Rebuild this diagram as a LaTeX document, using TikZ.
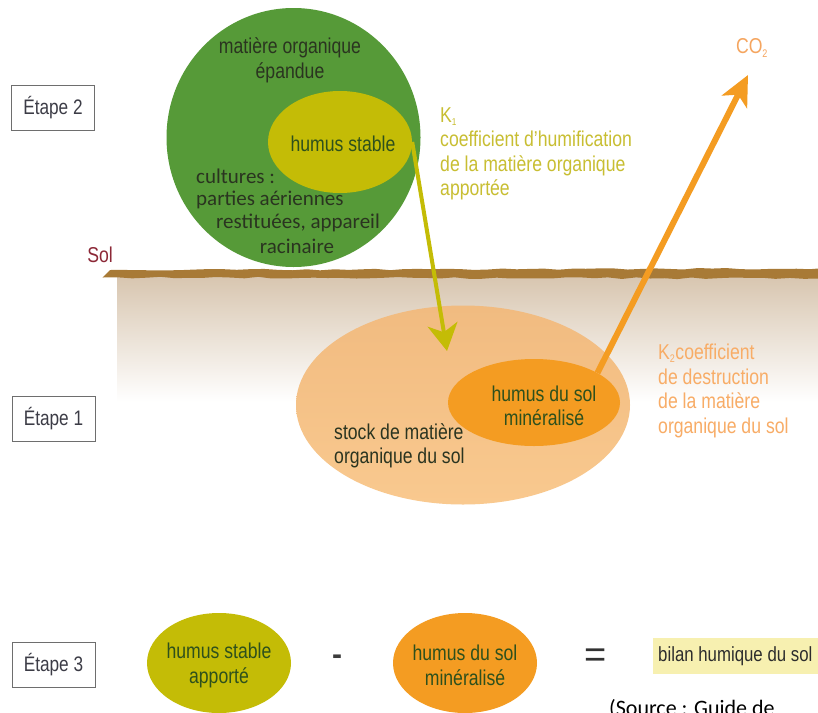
\documentclass[tikz,border=0pt]{standalone}
\usepackage{fontspec}
\setmainfont{Liberation Sans}
\newfontfamily\cond[FakeStretch=0.82]{Liberation Sans}
\newfontfamily\cali{Carlito}
\usetikzlibrary{arrows.meta,shapes.geometric,decorations.pathmorphing}
\definecolor{greenc}{RGB}{86,154,56}
\definecolor{yellowc}{RGB}{196,188,6}
\definecolor{lightor}{RGB}{249,201,143}
\definecolor{lightortop}{RGB}{241,187,128}
\definecolor{darkor}{RGB}{244,156,34}
\definecolor{soiltop}{RGB}{216,198,176}
\definecolor{soilbrown}{RGB}{168,122,54}
\definecolor{solred}{RGB}{140,40,55}
\definecolor{kone}{RGB}{200,190,50}
\definecolor{ktwo}{RGB}{248,172,102}
\definecolor{cotwo}{RGB}{245,165,95}
\definecolor{intxt}{RGB}{46,80,28}
\definecolor{darktxt}{RGB}{42,52,32}
\definecolor{boxgray}{RGB}{110,110,110}
\definecolor{bilanbg}{RGB}{247,240,176}
\begin{document}
\begin{tikzpicture}[x=1pt,y=-1pt,
  lbl/.style={font=\cond\fontsize{21.5}{24.5}\selectfont, align=center, inner sep=0},
  cal/.style={font=\cali\fontsize{21}{23.7}\selectfont, inner sep=0, text=darktxt},
  etape/.style={draw=boxgray, line width=1pt, minimum width=83pt, minimum height=45pt, inner sep=0,
     font=\cond\fontsize{21}{23}\selectfont, text={rgb,255:red,60;green,60;blue,70}},
  blob/.style={ellipse, inner sep=0, draw=none},
  yarrow/.style={draw=yellowc, line width=4pt, -{Stealth[length=27pt,width=30pt,inset=8pt]}},
  oarrow/.style={draw=darkor, line width=6pt, -{Stealth[length=30pt,width=28pt,inset=8pt]}}
]
\useasboundingbox (0,0) rectangle (818,712);
\fill[white] (0,0) rectangle (818,712);

% soil
\shade[top color=soiltop, bottom color=white] (117,277) rectangle (818,402);
\pgfmathsetseed{11}
\fill[soilbrown, decorate, decoration={random steps, segment length=14pt, amplitude=0.9pt}]
  (110,270) -- (818,268.5) -- (818,278.5) -- (110,277.5) -- cycle;
\node[lbl, text=solred] (sol) at (100,255) {Sol};

% Etape boxes
\node[etape] (e2) at (53,108) {Étape 2};
\node[etape] (e1) at (53.5,418.5) {Étape 1};
\node[etape] (e3) at (53.5,664.5) {Étape 3};

% green circle
\node[blob, fill=greenc, minimum width=254pt, minimum height=259pt] (green) at (293.5,137.5) {};
\node[lbl, text=darktxt] (mo) at (290,60.5) {matière organique\\épandue};
\node[blob, fill=yellowc, minimum width=144pt, minimum height=102pt] (stable) at (340,142) {};
\node[lbl, text=intxt] (stabletxt) at (343,144) {humus stable};
\node[cal, anchor=west] (cult1) at (196,176) {cultures :};
\node[cal, anchor=west] (cult2) at (196,199.5) {parties aériennes};
\node[cal] (cult3) at (298,223) {restituées, appareil};
\node[cal] (cult4) at (297,246.5) {racinaire};

% K1 text
\node[lbl, text=kone, align=left, anchor=west] (k1) at (440,154) {K\textsubscript{\fontsize{10}{10}\selectfont 1}\\coefficient d’humification\\de la matière organique\\apportée};

% soil stock
\node[blob, top color=lightortop, bottom color=lightor, minimum width=334pt, minimum height=199pt] (stock) at (463,405) {};
\node[lbl, text=darktxt, align=left, anchor=west] (stocktxt) at (334,446) {stock de matière\\organique du sol};
\node[blob, fill=darkor, minimum width=172pt, minimum height=87pt] (mineral) at (534,402.5) {};
\node[lbl, text=intxt] (mineraltxt) at (544,406) {humus du sol\\minéralisé};

% K2 text
\node[lbl, text=ktwo, align=left, anchor=west] (k2) at (658,391) {K\textsubscript{\fontsize{11}{11}\selectfont 2}coefficient\\de destruction\\de la matière\\organique du sol};

% CO2
\node[lbl, text=cotwo] (co2) at (752,48) {CO\textsubscript{\fontsize{11}{11}\selectfont 2}};
\coordinate (co2tip) at (748,75);
\coordinate (ytip) at (447,351);

% arrows
\draw[yarrow] (stable.east) -- (ytip);
\draw[oarrow] (mineral.25) -- (co2tip);

% step 3
\node[blob, fill=yellowc, minimum width=144pt, minimum height=100pt] (s3a) at (219,663) {};
\node[lbl, text=intxt] (s3atxt) at (219,665.5) {humus stable\\apporté};
\node[lbl, text={rgb,255:red,60;green,60;blue,60}, font=\bfseries\fontsize{30}{30}\selectfont] (minus) at (337,660) {-};
\node[blob, fill=darkor, minimum width=144pt, minimum height=100pt] (s3b) at (465,663) {};
\node[lbl, text=intxt] (s3btxt) at (465,665.5) {humus du sol\\minéralisé};
\node[lbl, text={rgb,255:red,50;green,50;blue,50}, font=\fontsize{38}{38}\selectfont] (eq) at (596,658) {=};
\fill[bilanbg] (653,638) rectangle (830,674);
\node[lbl, text={rgb,255:red,45;green,45;blue,45}, anchor=west, font=\cond\fontsize{20.5}{24}\selectfont] (bilan) at (658,656) {bilan humique du sol};
\node[font=\cali\fontsize{22}{26}\selectfont, anchor=base west, inner sep=0, text=black] (source) at (609,715) {(Source : Guide de};
\end{tikzpicture}
\end{document}
